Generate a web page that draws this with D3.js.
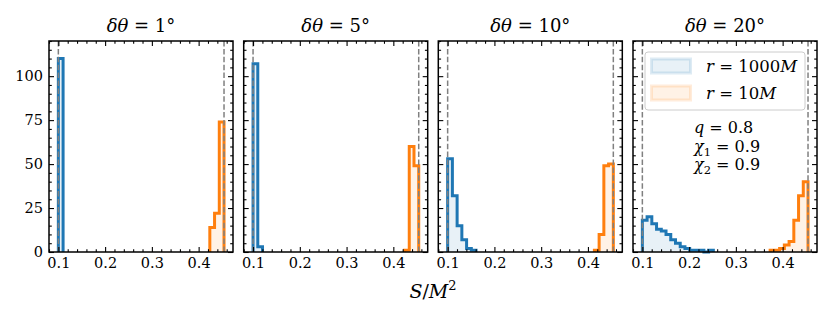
<!DOCTYPE html>
<html>
<head>
<meta charset="utf-8">
<script src="https://cdn.jsdelivr.net/npm/d3@7"></script>
<style>
  body { margin: 0; background: #fff; }
  svg text { font-family: "DejaVu Serif", serif; fill: #000; }
</style>
</head>
<body>
<script>
'use strict';

// panel titles (spread angle)
const angles = ["1", "5", "10", "20"]

// common histogram bins over [S_min, S_max]
const sMin = 0.1
const sMax = 0.4543
const nBins = 35
const binEdges = d3.range(nBins + 1).map(i => sMin + i * (sMax - sMin) / nBins)

// r = 1000M : first bin index and counts per panel
const farStart = [0, 0, 0, 0]
const farCounts = [
  [110],
  [107, 3],
  [53, 32, 15, 7, 2, 1],
  [18, 20, 16, 13, 12, 10, 7, 5, 3, 2, 1, 1, 1, 0, 1]
]

// r = 10M : first bin index and counts per panel
const nearStart = [32, 32, 31, 27]
const nearCounts = [
  [14, 22, 74],
  [1, 60, 49],
  [1, 10, 49, 50],
  [1, 1, 2, 4, 6, 18, 32, 40]
]

const xMajor = [0.1, 0.2, 0.3, 0.4]
const xMinor = d3.range(0.08, 0.47, 0.02)
const yMajor = [0, 25, 50, 75, 100]
const yMinor = d3.range(0, 121, 5)

const legendLabels = ["1000", "10"]
const params = [["q", "", "0.8"], ["χ", "1", "0.9"], ["χ", "2", "0.9"]]

const m = {
  lefts: [49, 243.7, 438.3, 633],
  top: 41,
  w: 184,
  h: 211
}
const blue = "#1f77b4"
const orange = "#ff7f0e"

const svg = d3.select('body').append('svg')
  .attr('width', 831)
  .attr('height', 323)

const x = d3.scaleLinear().domain([0.08, 0.4735]).range([0, m.w])
const y = d3.scaleLinear().domain([0, 120]).range([m.h, 0])

// outline of a step histogram, open at the bottom
function stepPoints(start, counts) {
  let pts = [[x(binEdges[start]), y(0)]]
  counts.forEach((c, i) => {
    pts.push([x(binEdges[start + i]), y(c)])
    pts.push([x(binEdges[start + i + 1]), y(c)])
  })
  pts.push([x(binEdges[start + counts.length]), y(0)])
  return pts
}

function drawHist(g, start, counts, color) {
  const pts = stepPoints(start, counts)
  g.append('path')
    .attr('d', d3.line()(pts) + 'Z')
    .attr('fill', color)
    .attr('fill-opacity', 0.1)
    .attr('stroke', 'none')
  g.append('path')
    .attr('d', d3.line()(pts))
    .attr('fill', 'none')
    .attr('stroke', color)
    .attr('stroke-width', 3)
    .attr('stroke-linejoin', 'miter')
}

function italic(t, s) {
  t.append('tspan').style('font-style', 'italic').text(s)
}

angles.forEach((a, p) => {
  const g = svg.append('g')
    .attr('transform', 'translate(' + m.lefts[p] + ',' + m.top + ')')

  drawHist(g, farStart[p], farCounts[p], blue)
  drawHist(g, nearStart[p], nearCounts[p], orange)

  // limits of S
  ;[sMin, sMax].forEach(v => {
    g.append('line')
      .attr('x1', x(v)).attr('x2', x(v))
      .attr('y1', 0).attr('y2', m.h)
      .attr('stroke', '#808080')
      .attr('stroke-width', 1.5)
      .attr('stroke-dasharray', '5.5,2.4')
  })

  // ticks on all four sides, pointing in
  const axes = [
    [d3.axisBottom(x), 'translate(0,' + m.h + ')', xMajor, xMinor, true, -5, -2.8],
    [d3.axisTop(x), null, xMajor, xMinor, false, -5, -2.8],
    [d3.axisLeft(y), null, yMajor, yMinor, p === 0, -5, -2.8],
    [d3.axisRight(y), 'translate(' + m.w + ',0)', yMajor, yMinor, false, -5, -2.8]
  ]
  axes.forEach(([ax, tr, maj, min, labels, big, small]) => {
    const gMin = g.append('g').call(ax.tickValues(min.filter(v => !maj.some(u => Math.abs(u - v) < 1e-9)))
      .tickSize(small).tickFormat(''))
    const gMaj = g.append('g').call(ax.tickValues(maj).tickSize(big).tickPadding(6)
      .tickFormat(labels ? (d => String(d)) : ''))
    ;[gMin, gMaj].forEach(gg => {
      if (tr) gg.attr('transform', tr)
      gg.select('.domain').remove()
      gg.selectAll('line').attr('stroke', '#000').attr('stroke-width', 1.1)
      gg.selectAll('text').style('font-size', '14.5px').attr('fill', '#000')
    })
  })

  g.append('rect')
    .attr('width', m.w).attr('height', m.h)
    .attr('fill', 'none')
    .attr('stroke', '#000')
    .attr('stroke-width', 1.5)

  // title
  const t = g.append('text')
    .attr('x', m.w / 2).attr('y', -9)
    .attr('text-anchor', 'middle')
    .style('font-size', '18px')
  italic(t, 'δθ')
  t.append('tspan').text(' = ' + a + '°')
})

// legend in the last panel
const lg = svg.append('g').attr('transform', 'translate(' + m.lefts[3] + ',' + m.top + ')')
lg.append('rect')
  .attr('x', 12).attr('y', 11).attr('width', 160).attr('height', 58)
  .attr('rx', 3)
  .attr('fill', '#fff').attr('fill-opacity', 0.8)
  .attr('stroke', '#cccccc').attr('stroke-width', 1)
;[blue, orange].forEach((c, i) => {
  const cy = 25 + i * 27
  lg.append('rect')
    .attr('x', 18.5).attr('y', cy - 7).attr('width', 39).attr('height', 14)
    .attr('fill', c).attr('fill-opacity', 0.1)
    .attr('stroke', c).attr('stroke-opacity', 0.15).attr('stroke-width', 3)
  const t = lg.append('text')
    .attr('x', 73).attr('y', cy + 5.5)
    .style('font-size', '16.5px')
  italic(t, 'r')
  t.append('tspan').text(' = ' + legendLabels[i])
  italic(t, 'M')
})

// binary parameters
params.forEach(([sym, sub, val], i) => {
  const t = lg.append('text')
    .attr('x', 61).attr('y', 92 + i * 18.7)
    .style('font-size', '16px')
  italic(t, sym)
  if (sub) t.append('tspan').attr('dy', 4).style('font-size', '11.5px').text(sub)
  t.append('tspan').attr('dy', sub ? -4 : 0).text(' = ' + val)
})

// shared x label
const xl = svg.append('text')
  .attr('x', 433).attr('y', 298)
  .attr('text-anchor', 'middle')
  .style('font-size', '19px')
italic(xl, 'S')
xl.append('tspan').text('/')
italic(xl, 'M')
xl.append('tspan').attr('dy', -8).style('font-size', '13px').text('2')
</script>
</body>
</html>
